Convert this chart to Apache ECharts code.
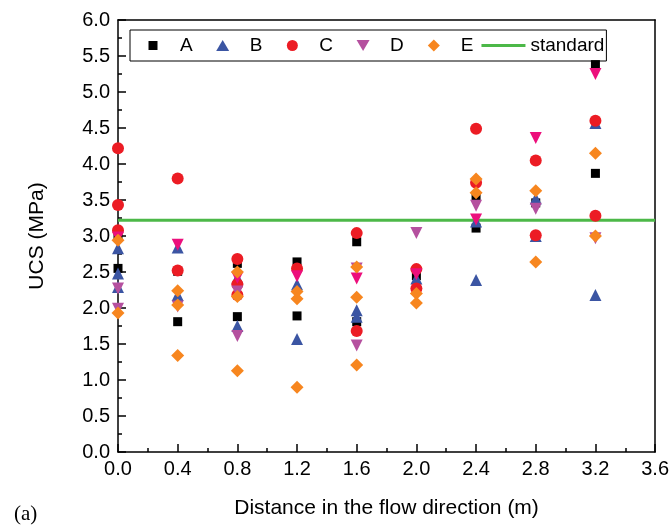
<!DOCTYPE html>
<html>
<head>
<meta charset="utf-8">
<script src="https://cdn.jsdelivr.net/npm/echarts@6/dist/echarts.min.js"></script>
<style>
  html, body { margin: 0; padding: 0; background: #fff; }
  #chart { width: 672px; height: 528px; }
</style>
</head>
<body>
<div id="chart"></div>
<script>
// Sampling positions along the flow direction (m)
const positions = [0.0, 0.4, 0.8, 1.2, 1.6, 2.0, 2.4, 2.8, 3.2];

// UCS readings (MPa) per position, one inner list per position
const seriesA = [[3.00, 2.55], [2.51, 1.81], [2.62, 1.88], [2.64, 1.89], [2.92, 1.81], [2.45], [3.55, 3.11], [3.46], [5.38, 3.87]];
const seriesB = [[2.83, 2.48, 2.29], [2.84, 2.18], [2.42, 1.75], [2.33, 1.57], [1.97, 1.88], [2.41], [3.20, 2.39], [3.52, 3.00], [4.57, 2.18]];
const seriesC = [[4.22, 3.43, 3.08], [3.80, 2.52], [2.68, 2.33, 2.18], [2.55], [3.04, 1.68], [2.54, 2.27], [4.49, 3.74], [4.05, 3.01], [4.60, 3.28]];
const seriesD = [[2.27, 1.99], [2.02], [2.23, 1.61], [], [2.55, 1.48], [3.04], [3.42], [3.38], [2.97]];
const seriesD2 = [[2.98], [2.88], [2.42], [2.44], [2.41], [2.47], [3.23], [4.36], [5.25]];
const seriesE = [[2.94, 1.93], [2.24, 2.04, 1.34], [2.50, 2.16, 1.13], [2.23, 2.13, 0.90], [2.57, 2.15, 1.21], [2.20, 2.07], [3.79, 3.60], [3.63, 2.64], [4.15, 3.00]];

// Design standard for UCS (MPa)
const standardUCS = 3.22;
const xRange = [0, 3.6];

const yTicks = { min: 0, max: 6, step: 0.5 };
const xTicks = { min: 0, max: 3.6, step: 0.4 };

function toPoints(groups) {
  const pts = [];
  groups.forEach((vals, i) => vals.forEach(v => pts.push([positions[i], v])));
  return pts;
}

const font = 'Liberation Sans, Arial, sans-serif';

// Legend glyphs drawn inside a 44x12 box so the marker sits centred
// with blank space on both sides (the leading moves fix the box extent).
const BOX = 'M0 0 M44 12 ';
const legendIcons = {
  A: 'path://' + BOX + 'M17.5 1.5 L26.5 1.5 L26.5 10.5 L17.5 10.5 Z',
  B: 'path://' + BOX + 'M22 0.5 L28.5 11.5 L15.5 11.5 Z',
  C: 'path://' + BOX + 'M16.5 6 A5.5 5.5 0 1 0 27.5 6 A5.5 5.5 0 1 0 16.5 6 Z',
  D: 'path://' + BOX + 'M15.5 0.5 L28.5 0.5 L22 11.5 Z',
  E: 'path://' + BOX + 'M22 0 L28 6 L22 12 L16 6 Z',
  standard: 'path://' + BOX + 'M0 4.5 L44 4.5 L44 7.5 L0 7.5 Z'
};

function scatter(name, values, symbol, size, color, rotate) {
  return {
    name: name,
    type: 'scatter',
    data: toPoints(values),
    symbol: symbol,
    symbolSize: size,
    symbolRotate: rotate || 0,
    itemStyle: { color: color, opacity: 1 },
    emphasis: { disabled: true },
    z: 3
  };
}

const chart = echarts.init(document.getElementById('chart'), null, { renderer: 'canvas' });

chart.setOption({
  animation: false,
  backgroundColor: '#ffffff',
  textStyle: { fontFamily: font },
  grid: { left: 118, right: 16, top: 20, bottom: 76, containLabel: false },
  legend: {
    left: 130,
    top: 30,
    padding: [6, 2, 6, 1],
    itemWidth: 44,
    itemHeight: 12,
    itemGap: 8,
    symbolRotate: 0,
    borderColor: '#000',
    borderWidth: 1,
    borderRadius: 0,
    textStyle: { fontFamily: font, fontSize: 19, color: '#000' },
    data: [
      { name: 'A', icon: legendIcons.A },
      { name: 'B', icon: legendIcons.B },
      { name: 'C', icon: legendIcons.C },
      { name: 'D', icon: legendIcons.D },
      { name: 'E', icon: legendIcons.E },
      { name: 'standard', icon: legendIcons.standard }
    ]
  },
  xAxis: [{
    type: 'value',
    min: xTicks.min, max: xTicks.max, interval: xTicks.step,
    name: 'Distance in the flow direction (m)',
    nameLocation: 'middle',
    nameGap: 46,
    nameTextStyle: { fontFamily: font, fontSize: 21, color: '#000' },
    axisLine: { show: true, onZero: false, lineStyle: { color: '#000', width: 1.5 } },
    axisTick: { show: true, inside: true, length: 8, lineStyle: { color: '#000', width: 1.5 } },
    minorTick: { show: true, splitNumber: 2, length: 4, lineStyle: { color: '#000', width: 1.5 } },
    axisLabel: { fontFamily: font, fontSize: 20, color: '#000', margin: 7, formatter: v => v.toFixed(1) },
    splitLine: { show: false }
  }, {
    type: 'value', position: 'top',
    min: xTicks.min, max: xTicks.max,
    axisLine: { show: true, onZero: false, lineStyle: { color: '#000', width: 1.5 } },
    axisTick: { show: false }, axisLabel: { show: false }, splitLine: { show: false }
  }],
  yAxis: [{
    type: 'value',
    min: yTicks.min, max: yTicks.max, interval: yTicks.step,
    name: 'UCS (MPa)',
    nameLocation: 'middle',
    nameGap: 70,
    nameTextStyle: { fontFamily: font, fontSize: 21, color: '#000' },
    axisLine: { show: true, onZero: false, lineStyle: { color: '#000', width: 1.5 } },
    axisTick: { show: true, inside: true, length: 8, lineStyle: { color: '#000', width: 1.5 } },
    minorTick: { show: true, splitNumber: 2, length: 4, lineStyle: { color: '#000', width: 1.5 } },
    axisLabel: { fontFamily: font, fontSize: 20, color: '#000', margin: 8, formatter: v => v.toFixed(1) },
    splitLine: { show: false }
  }, {
    type: 'value', position: 'right',
    min: yTicks.min, max: yTicks.max,
    axisLine: { show: true, onZero: false, lineStyle: { color: '#000', width: 1.5 } },
    axisTick: { show: false }, axisLabel: { show: false }, splitLine: { show: false }
  }],
  graphic: [{
    type: 'text',
    left: 14,
    top: 504,
    style: { text: '(a)', font: '21px "Liberation Serif", serif', fill: '#000' }
  }],
  series: [
    {
      name: 'standard',
      type: 'line',
      data: [[xRange[0], standardUCS], [xRange[1], standardUCS]],
      symbol: 'none',
      lineStyle: { color: '#4cb848', width: 3 },
      itemStyle: { color: '#4cb848' },
      emphasis: { disabled: true },
      z: 2
    },
    scatter('A', seriesA, 'rect', 9, '#000000'),
    scatter('B', seriesB, 'triangle', 12, '#3b55a3'),
    scatter('C', seriesC, 'circle', 12, '#ec1c24'),
    scatter('D', seriesD, 'triangle', 12, '#b5509f', 180),
    scatter('D', seriesD2, 'triangle', 12, '#ec0f7c', 180),
    scatter('E', seriesE, 'diamond', 13, '#f7861f')
  ]
});
</script>
</body>
</html>
